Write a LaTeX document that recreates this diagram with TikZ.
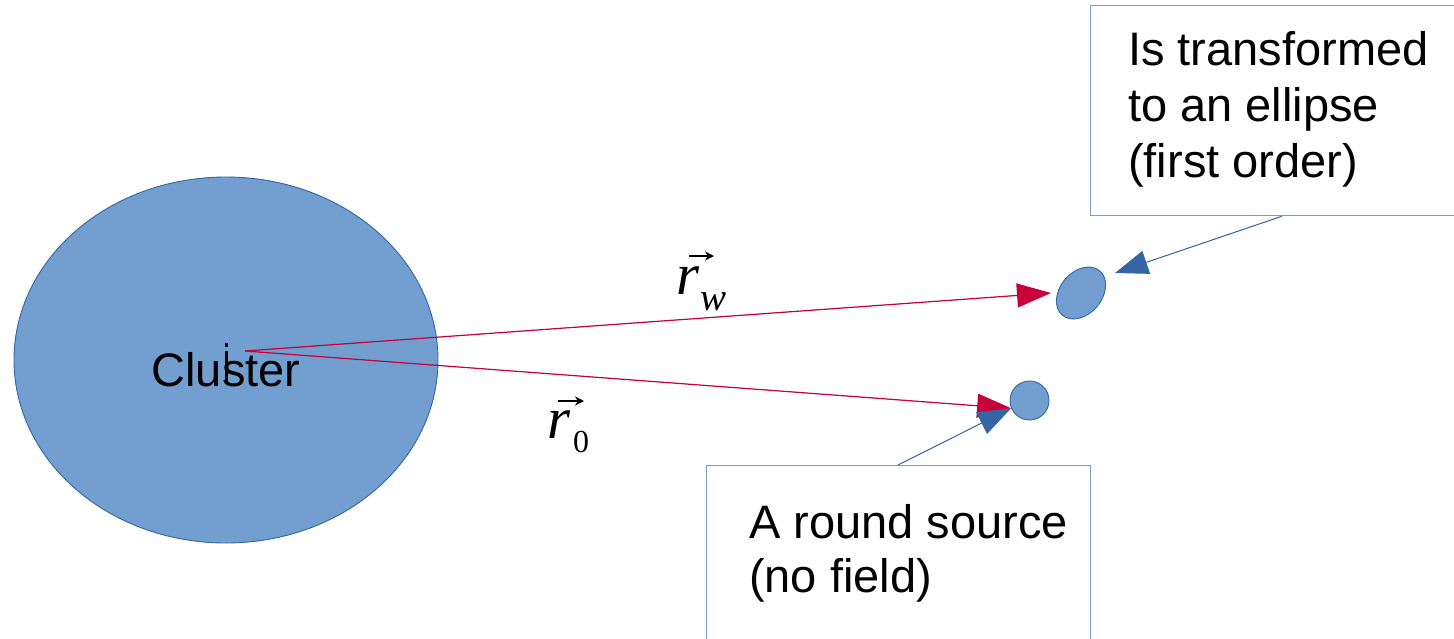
\documentclass[tikz,border=0pt]{standalone}
\usepackage{fontspec}
\setmainfont{Liberation Sans}
\newfontfamily\serifit{Liberation Serif}[ItalicFont=* Italic]
\usetikzlibrary{arrows.meta,shapes.geometric,calc}
\definecolor{blobfill}{HTML}{729FCF}
\definecolor{blobline}{HTML}{3465A4}
\definecolor{vecred}{RGB}{200,0,60}
\definecolor{boxline}{HTML}{7C9ACB}
\definecolor{callblue}{HTML}{3465A4}
\tikzset{
  blob/.style={fill=blobfill,draw=blobline,line width=0.9pt,inner sep=0pt},
  redarrow/.style={draw=vecred,line width=1.2pt,-{Triangle[length=34pt,width=24pt]},fill=vecred},
  callarrow/.style={draw=callblue,line width=1pt,-{Triangle[length=33pt,width=24pt]},fill=callblue},
  notebox/.style={draw=boxline,line width=1.2pt,rectangle,inner sep=0pt},
  notetext/.style={font=\fontsize{47}{56}\selectfont,align=left,inner sep=0pt},
  vecarrow/.style={line width=2pt,-{Stealth[length=9pt,width=9pt]}},
}
\begin{document}
\begin{tikzpicture}[x=1pt,y=-1pt]
\useasboundingbox (0,0) rectangle (1454,638);
% cluster
\node[blob,ellipse,minimum width=424pt,minimum height=366pt] (cluster) at (226,360) {};
\node[anchor=base,font=\fontsize{47}{47}\selectfont,inner sep=0pt] (clabel) at (226,386) {Cluster};
\fill (225,351) rectangle (228,383);
\fill (225,343) rectangle (228,347);
% sources
\node[blob,ellipse,minimum width=58pt,minimum height=42pt,rotate=50] (ell) at (1081,293) {};
\node[blob,circle,minimum size=39pt] (src) at (1029.5,400.5) {};
% origin
\coordinate (o) at (245,351);
\draw[redarrow] (o) -- ($(ell.center)+(-30,0)$);
\draw[redarrow] (o) -- (src.203);
% labels r_w and r_0
\node[anchor=base west,inner sep=0pt,font=\fontsize{59}{59}\serifit\itshape] (rw) at (676,294) {r};
\node[anchor=base west,inner sep=0pt,font=\fontsize{39}{39}\serifit\itshape] (w) at (700,310) {w};
\draw[vecarrow] ($(rw.base west)+(13,-38)$) -- ($(rw.base west)+(38,-38)$);
\node[anchor=base west,inner sep=0pt,font=\fontsize{59}{59}\serifit\itshape] (r0) at (547,438) {r};
\node[anchor=base west,inner sep=0pt,font=\fontsize{32}{32}\serifit] (zero) at (573,452) {0};
\draw[vecarrow] ($(r0.base west)+(11,-37)$) -- ($(r0.base west)+(37,-37)$);
% top note
\node[notebox,anchor=north west,minimum width=374pt,minimum height=210pt] (tbox) at (1090,5) {};
\node[notetext,anchor=base west] (ttext) at (1128,177) {Is transformed\\to an ellipse\\(first order)};
\coordinate (tstart) at ($(tbox.south west)+(192,0)$);
\draw[callarrow] (tstart) -- (1115,273);
% bottom note
\node[notebox,anchor=north west,minimum width=384pt,minimum height=190pt] (bbox) at (706,465) {};
\node[notetext,anchor=base west,font=\fontsize{47}{54}\selectfont] (btext) at (749,592) {A round source\\(no field)};
\coordinate (bstart) at ($(bbox.north west)+(192,0)$);
\draw[callarrow] (bstart) -- (src.203);
\end{tikzpicture}
\end{document}
